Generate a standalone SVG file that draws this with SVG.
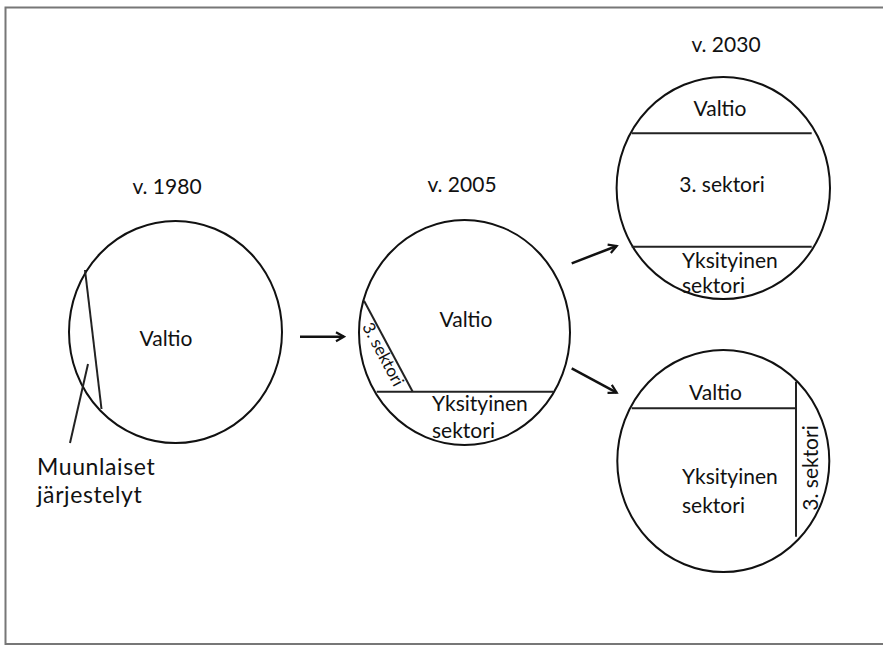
<svg xmlns="http://www.w3.org/2000/svg" width="883" height="646" viewBox="0 0 883 646">
<defs>
<style>
.t{font-family:Lato,"Open Sans","Liberation Sans",sans-serif;font-size:21px;fill:#111}
.m{text-anchor:middle}
.c{fill:#fff;stroke:#111;stroke-width:2}
.l{fill:none;stroke:#222;stroke-width:2}
.a{fill:none;stroke:#111;stroke-width:2.5}
.lab{font-size:23px;letter-spacing:0.6px}
</style>
<marker id="ah" viewBox="0 0 12 12" refX="10" refY="6" markerWidth="12" markerHeight="12" markerUnits="userSpaceOnUse" orient="auto">
<polyline points="2,1.5 10,6 2,10.5" fill="none" stroke="#111" stroke-width="2.2"/>
</marker>
</defs>
<rect x="0" y="0" width="883" height="646" fill="#fff"/>
<rect x="5.5" y="7.5" width="890" height="636.5" fill="none" stroke="#777" stroke-width="2"/>

<g id="n1980">
<text class="t m" x="167" y="194">v. 1980</text>
<ellipse class="c" cx="175.5" cy="332" rx="106.5" ry="111"/>
<line class="l" x1="85" y1="270" x2="101.5" y2="409"/>
<line class="l" x1="88" y1="364" x2="70" y2="443"/>
<text class="t m" x="166" y="346">Valtio</text>
<text class="t lab" x="37" y="475">Muunlaiset</text>
<text class="t lab" x="37" y="503">järjestelyt</text>
</g>

<g id="n2005">
<text class="t m" x="462" y="192">v. 2005</text>
<ellipse class="c" cx="464.5" cy="332.5" rx="105.5" ry="112.5"/>
<line class="l" x1="364" y1="300.7" x2="412.7" y2="391.7"/>
<line class="l" x1="376.7" y1="391.7" x2="553" y2="391.7"/>
<text class="t m" x="466" y="327">Valtio</text>
<text class="t" x="432" y="411">Yksityinen</text>
<text class="t" x="432" y="438">sektori</text>
<text class="t m" style="font-size:17px" transform="translate(378,357) rotate(62)">3. sektori</text>
</g>

<g id="n2030a">
<text class="t m" x="726" y="52">v. 2030</text>
<ellipse class="c" cx="723.3" cy="188" rx="106.7" ry="111"/>
<line class="l" x1="631.7" y1="133.3" x2="811.7" y2="133.3"/>
<line class="l" x1="631.7" y1="246.7" x2="811.7" y2="246.7"/>
<text class="t m" x="720" y="116">Valtio</text>
<text class="t m" x="722" y="192">3. sektori</text>
<text class="t" x="682" y="268">Yksityinen</text>
<text class="t" x="682" y="293">sektori</text>
</g>

<g id="n2030b">
<ellipse class="c" cx="723.3" cy="461" rx="106" ry="111"/>
<line class="l" x1="631.7" y1="408.3" x2="796" y2="408.3"/>
<line class="l" x1="796" y1="381.7" x2="796" y2="536.7"/>
<text class="t m" x="715.5" y="400">Valtio</text>
<text class="t" x="682" y="484">Yksityinen</text>
<text class="t" x="682" y="513">sektori</text>
<text class="t m" transform="translate(818,468) rotate(-90)">3. sektori</text>
</g>

<g id="connectors">
<line class="a" x1="300" y1="336.7" x2="344" y2="336.7" marker-end="url(#ah)"/>
<line class="a" x1="571.7" y1="263.3" x2="616.7" y2="246" marker-end="url(#ah)"/>
<line class="a" x1="571.7" y1="368.3" x2="616.7" y2="392.7" marker-end="url(#ah)"/>
</g>
</svg>
